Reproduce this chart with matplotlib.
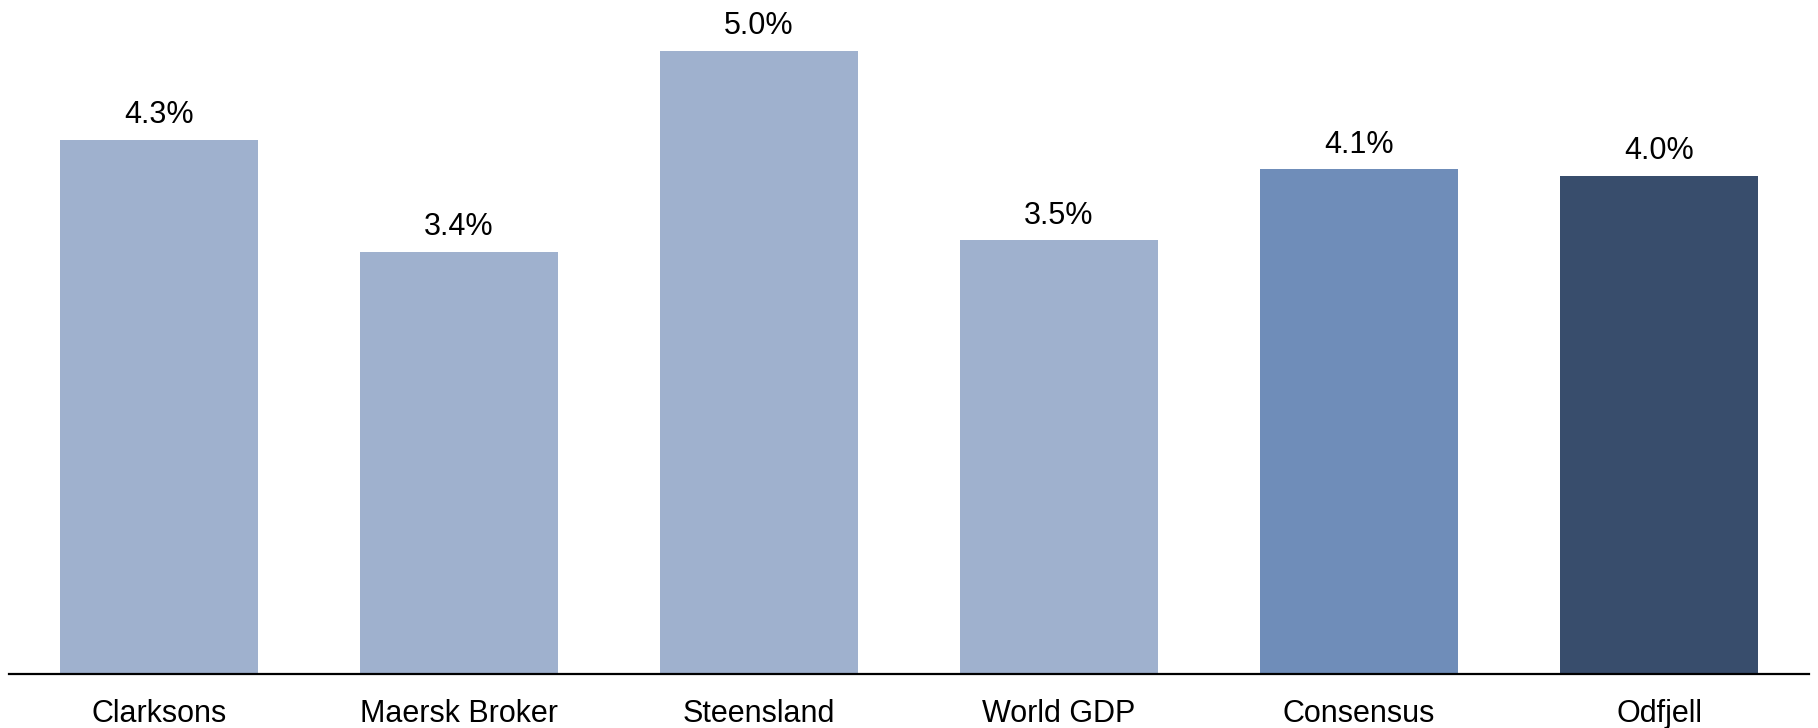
import numpy as np
import matplotlib
matplotlib.use("Agg")
from matplotlib import pyplot as plt

plt.rcParams['font.family'] = ['Liberation Sans', 'DejaVu Sans']

# datos
categorias = ['Clarksons', 'Maersk Broker', 'Steensland', 'World GDP', 'Consensus', 'Odfjell']
valores = [4.29, 3.39, 5.0, 3.48, 4.05, 4.0]
etiquetas = ['4.3%', '3.4%', '5.0%', '3.5%', '4.1%', '4.0%']
colores = ['#9FB1CE', '#9FB1CE', '#9FB1CE', '#9FB1CE', '#6F8DB9', '#384D6C']

fig = plt.figure(figsize=(18.18, 7.28), dpi=100)
ax = fig.add_axes([9/1818, 1-674/728, 1800/1818, 674/728])

x = np.arange(len(categorias))
barras = ax.bar(x, valores, width=0.66, color=colores)

for xi, v, t in zip(x, valores, etiquetas):
    ax.annotate(t, (xi, v), xytext=(0, 12), textcoords='offset points',
                ha='center', va='baseline', fontsize=22)

ax.set_xlim(-0.5, 5.5)
ax.set_ylim(0, 5.41)
ax.set_xticks(x)
ax.set_xticklabels(categorias, fontsize=22)
ax.tick_params(axis='x', length=0, pad=18)
ax.set_yticks([])
for s in ['top', 'right', 'left']:
    ax.spines[s].set_visible(False)
ax.spines['bottom'].set_linewidth(1.6)
ax.spines['bottom'].set_color('black')

plt.savefig('out.png', dpi=100)
